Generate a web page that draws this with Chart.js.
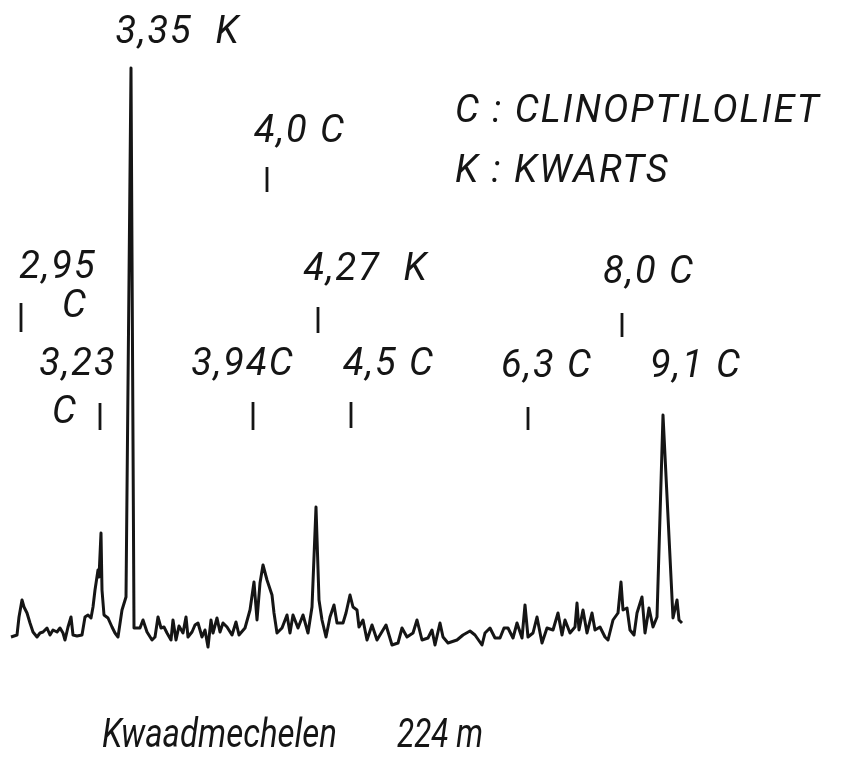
<!DOCTYPE html>
<html>
<head>
<meta charset="utf-8">
<script src="https://cdn.jsdelivr.net/npm/chart.js@4/dist/chart.umd.min.js"></script>
<style>
  html, body { margin: 0; padding: 0; background: #fff; }
  canvas { display: block; }
</style>
</head>
<body>
<canvas id="xrdChart" width="842" height="758"></canvas>
<script>
// Diffractogram Kwaadmechelen 224 m - trace.
// position = chart position (left -> right), intensity = pen height above the chart floor

const tracePosition = [
  11, 17, 19, 22, 24, 27, 30, 33, 37, 40, 43, 47, 50, 53, 57, 60, 63, 65, 68, 71,
  73, 77, 82, 85, 88, 91, 93, 95, 98, 99, 101, 102, 104, 108, 112, 115, 118, 122, 126, 131,
  134, 137, 140, 143, 147, 152, 155, 158, 161, 164, 167, 171, 173, 176, 179, 183, 186, 188, 192, 195,
  198, 202, 205, 208, 211, 213, 217, 220, 223, 227, 232, 236, 239, 245, 250, 254, 257, 260, 263, 267,
  272, 274, 277, 282, 287, 290, 293, 298, 303, 308, 312, 316, 319, 322, 326, 330, 334, 337, 343, 346,
  350, 353, 357, 359, 363, 367, 372, 377, 386, 392, 398, 402, 407, 413, 417, 422, 428, 432, 435, 440,
  443, 448, 457, 463, 470, 475, 482, 485, 490, 495, 500, 504, 508, 513, 517, 522, 525, 528, 533, 537,
  542, 547, 553, 558, 562, 565, 570, 575, 577, 579, 583, 587, 592, 595, 600, 605, 608, 613, 618, 621,
  623, 627, 630, 634, 637, 642, 645, 649, 653, 657, 663, 673, 677, 679, 682
];
const traceIntensity = [
  3, 5, 23, 40, 33, 27, 17, 8, 3, 7, 8, 12, 5, 10, 8, 12, 7, 0, 13, 23,
  5, 4, 5, 23, 25, 22, 33, 50, 70, 63, 107, 50, 25, 22, 13, 7, 3, 30, 43, 572,
  12, 12, 12, 20, 8, 0, 3, 23, 12, 13, 7, 0, 20, 0, 14, 7, 23, 3, 8, 15,
  17, 3, 10, -7, 20, 7, 22, 8, 17, 13, 5, 18, 5, 12, 30, 58, 20, 57, 75, 60,
  45, 27, 7, 12, 25, 7, 25, 12, 25, 7, 33, 133, 40, 20, 3, 23, 35, 17, 17, 27,
  45, 33, 30, 13, 20, 0, 15, 0, 15, -5, -3, 12, 3, 7, 20, 0, 2, 10, -5, 17,
  3, -3, 0, 5, 9, 5, -5, 7, 12, 2, 2, 12, 12, 2, 17, 2, 35, 3, 7, 23,
  -3, 12, 10, 27, 5, 20, 7, 13, 37, 10, 30, 7, 27, 10, 13, 3, 0, 20, 27, 58,
  30, 32, 10, 5, 27, 43, 7, 32, 13, 23, 225, 22, 40, 20, 17
];

// peak annotations: text, centre position, baseline height
const peakLabels = ['3,35  K', '4,0 C', '2,95', 'C', '4,27  K', '3,23', 'C', '3,94C', '4,5 C', '8,0 C', '6,3 C', '9,1 C'];
const peakLabelPos = [178, 300, 58, 75, 366, 78, 65, 243, 389, 649, 547, 696];
const peakLabelHeight = [597, 498, 362, 323, 360, 265, 217, 265, 265, 357, 263, 263];

// short marker strokes above the peaks: position, top, bottom
const markerPos = [21, 267, 318, 100, 253, 351, 622, 528];
const markerTop = [337, 473, 333, 237, 238, 238, 327, 233];
const markerBottom = [308, 448, 307, 210, 210, 212, 303, 210];

const legendLines = ['C : CLINOPTILOLIET', 'K : KWARTS'];
const legendPos = 455;
const legendHeight = [518, 458];

const captionText = ['Kwaadmechelen', '224 m'];
const captionStart = [102, 397];
const captionEnd = [337, 483];
const captionHeight = -107;

const markerData = [];
markerPos.forEach(function (x, i) {
  markerData.push({ x: x, y: markerTop[i] });
  markerData.push({ x: x, y: markerBottom[i] });
  markerData.push({ x: x, y: null });
});

const INK = '#151515';
const LABEL_FONT = 'italic 400 38px Roboto, "Liberation Sans", sans-serif';

const annotationPlugin = {
  id: 'annotations',
  afterDatasetsDraw: function (chart) {
    const ctx = chart.ctx;
    const xs = chart.scales.x;
    const ys = chart.scales.y;
    ctx.save();
    ctx.fillStyle = INK;
    ctx.textBaseline = 'alphabetic';
    ctx.font = LABEL_FONT;
    ctx.letterSpacing = '2px';

    ctx.textAlign = 'center';
    peakLabels.forEach(function (t, i) {
      ctx.fillText(t, xs.getPixelForValue(peakLabelPos[i]), ys.getPixelForValue(peakLabelHeight[i]));
    });

    ctx.textAlign = 'left';
    legendLines.forEach(function (t, i) {
      ctx.fillText(t, xs.getPixelForValue(legendPos), ys.getPixelForValue(legendHeight[i]));
    });

    // caption squeezed into the width it takes on the original sheet
    ctx.letterSpacing = '0px';
    ctx.font = 'italic 400 40px Roboto, "Liberation Sans", sans-serif';
    captionText.forEach(function (t, i) {
      const x0 = xs.getPixelForValue(captionStart[i]);
      const x1 = xs.getPixelForValue(captionEnd[i]);
      ctx.fillText(t, x0, ys.getPixelForValue(captionHeight), x1 - x0);
    });
    ctx.restore();
  }
};

new Chart(document.getElementById('xrdChart'), {
  type: 'line',
  data: {
    datasets: [{
      label: 'Kwaadmechelen 224 m',
      data: tracePosition.map(function (x, i) { return { x: x, y: traceIntensity[i] }; }),
      borderColor: INK,
      borderWidth: 3,
      pointRadius: 0,
      tension: 0,
      fill: false,
      borderJoinStyle: 'round'
    }, {
      label: 'markers',
      data: markerData,
      borderColor: INK,
      borderWidth: 2.8,
      pointRadius: 0,
      spanGaps: false,
      fill: false
    }]
  },
  options: {
    responsive: false,
    animation: false,
    devicePixelRatio: 1,
    layout: { padding: 0 },
    plugins: {
      legend: { display: false },
      tooltip: { enabled: false },
      title: { display: false }
    },
    scales: {
      x: { type: 'linear', min: 0, max: 842, display: false },
      y: { type: 'linear', min: -118, max: 640, display: false }
    }
  },
  plugins: [annotationPlugin]
});
</script>
</body>
</html>
